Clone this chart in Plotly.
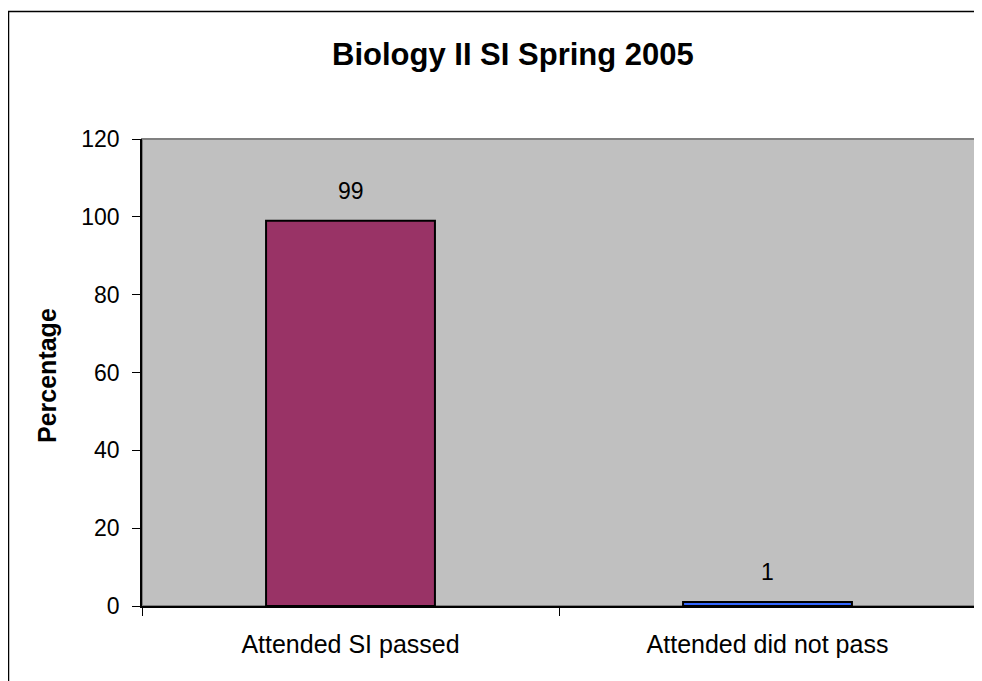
import plotly.graph_objects as go

categories = ["Attended SI passed", "Attended did not pass"]
percentages = [99, 1]
bar_colors = ["#993366", "#3366FF"]
y_ticks = [0, 20, 40, 60, 80, 100, 120]

# page body has an 8px margin, so the figure is laid out 8px up/left
OFF = 8
W, H = 982 - OFF, 681 - OFF
L, R, T, B = 142 - OFF, 6, 139 - OFF, 75
pw, ph = W - L - R, H - T - B


def px_x(x):
    return (x - OFF - L) / pw


def px_y(y):
    return (H - B - (y - OFF)) / ph


fig = go.Figure()
fig.add_trace(go.Bar(
    x=categories, y=percentages, width=0.405,
    marker=dict(color=bar_colors, line=dict(color="black", width=2)),
    showlegend=False, hoverinfo="x+y",
))

for c, v in zip(categories, percentages):
    fig.add_annotation(x=c, y=v, text=str(v), showarrow=False,
                       yanchor="middle", yshift=30,
                       font=dict(size=23, color="black"))

# title and y axis label
fig.add_annotation(xref="paper", yref="paper", x=px_x(513), y=px_y(55),
                   text="<b>Biology II SI Spring 2005</b>", showarrow=False,
                   xanchor="center", yanchor="middle",
                   font=dict(size=31, color="black"))
fig.add_annotation(xref="paper", yref="paper", x=px_x(47), y=px_y(376),
                   text="<b>Percentage</b>", showarrow=False, textangle=-90,
                   xanchor="center", yanchor="middle",
                   font=dict(size=25, color="black"))

# plot area frame and outer chart border
fig.add_shape(type="rect", xref="paper", yref="paper", x0=0, x1=1, y0=0, y1=1,
              line=dict(color="#808080", width=2), layer="below")
fig.add_shape(type="rect", xref="paper", yref="paper",
              x0=px_x(8.5), x1=px_x(1000), y0=px_y(700), y1=px_y(11.5),
              line=dict(color="black", width=1.5))

fig.update_layout(
    width=W, height=H,
    margin=dict(l=L, r=R, t=T, b=B, pad=0),
    paper_bgcolor="white", plot_bgcolor="#C0C0C0",
    font=dict(family="Liberation Sans, Arial, sans-serif", size=23, color="black"),
    bargap=0.595,
)
fig.update_xaxes(
    showline=True, linecolor="black", linewidth=1.5,
    ticks="outside", ticklen=8, tickcolor="black", tickson="boundaries",
    ticklabelstandoff=15, tickfont=dict(size=25), showgrid=False,
)
fig.update_yaxes(
    range=[0, 120], tickvals=y_ticks, showgrid=False, zeroline=False,
    showline=True, linecolor="black", linewidth=1.5,
    ticks="outside", ticklen=8, tickcolor="black", ticklabelstandoff=8,
)

fig.write_html("out.html")
